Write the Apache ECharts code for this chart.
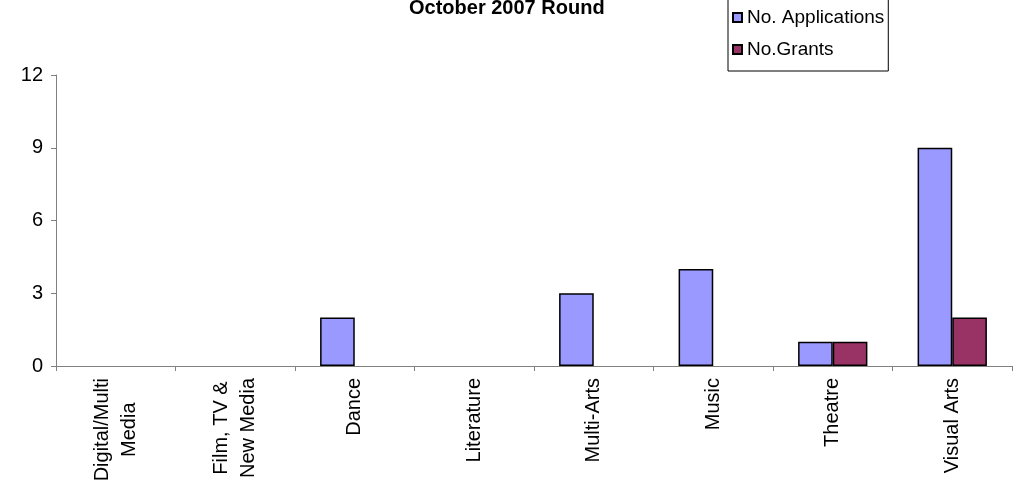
<!DOCTYPE html>
<html>
<head>
<meta charset="utf-8">
<style>html,body{margin:0;padding:0;background:#fff}#c{width:1023px;height:494px}</style>
<script src="https://cdn.jsdelivr.net/npm/echarts@6/dist/echarts.min.js"></script>
</head>
<body>
<div id="c"></div>
<script>
const categories = ['Digital/Multi\nMedia', 'Film, TV &\nNew Media', 'Dance', 'Literature', 'Multi-Arts', 'Music', 'Theatre', 'Visual Arts'];
const applications = [0, 0, 2, 0, 3, 4, 1, 9];
const grants = [0, 0, 0, 0, 0, 0, 1, 2];
const yTicks = [0, 3, 6, 9, 12];

const FONT = '"Liberation Sans", Arial, sans-serif';
const chart = echarts.init(document.getElementById('c'));
const toBar = v => (v === 0 ? '-' : v);
chart.setOption({
  animation: false,
  title: {
    text: 'October 2007 Round',
    left: 404, top: -7,
    textStyle: {fontFamily: FONT, fontSize: 20, fontWeight: 'bold', color: '#000'}
  },
  legend: {
    orient: 'vertical',
    left: 728, top: -1,
    padding: [9, 4, 12, 4],
    itemGap: 13,
    itemWidth: 9, itemHeight: 9,
    icon: 'rect',
    borderColor: '#000', borderWidth: 1,
    textStyle: {fontFamily: FONT, fontSize: 19, color: '#000'},
    data: ['No. Applications', 'No.Grants']
  },
  grid: {left: 56, right: 11, top: 75, bottom: 128, containLabel: false},
  xAxis: {
    type: 'category',
    data: categories,
    axisLine: {lineStyle: {color: '#808080', width: 1}},
    axisTick: {show: true, alignWithLabel: false, length: 5, lineStyle: {color: '#808080'}},
    axisLabel: {
      rotate: 90, margin: 12, interval: 0,
      fontFamily: FONT, fontSize: 20, color: '#000', lineHeight: 27,
      formatter: v => v.split('\n').map(s => '{c|' + s + '}').join('\n'),
      rich: {c: {align: 'center', fontFamily: FONT, fontSize: 20, color: '#000', lineHeight: 27}}
    }
  },
  yAxis: {
    type: 'value',
    min: yTicks[0], max: yTicks[yTicks.length - 1], interval: 3,
    axisLine: {show: true, lineStyle: {color: '#808080', width: 1}},
    axisTick: {show: true, length: 5, lineStyle: {color: '#808080'}},
    splitLine: {show: false},
    axisLabel: {margin: 13, fontFamily: FONT, fontSize: 20, color: '#000'}
  },
  series: [
    {
      name: 'No. Applications', type: 'bar',
      data: applications.map(toBar),
      barGap: '0%', barCategoryGap: '42%',
      itemStyle: {color: '#9999FF', borderColor: '#000', borderWidth: 1.5}
    },
    {
      name: 'No.Grants', type: 'bar',
      data: grants.map(toBar),
      barGap: '0%', barCategoryGap: '42%',
      itemStyle: {color: '#993366', borderColor: '#000', borderWidth: 1.5}
    }
  ]
});
</script>
</body>
</html>
